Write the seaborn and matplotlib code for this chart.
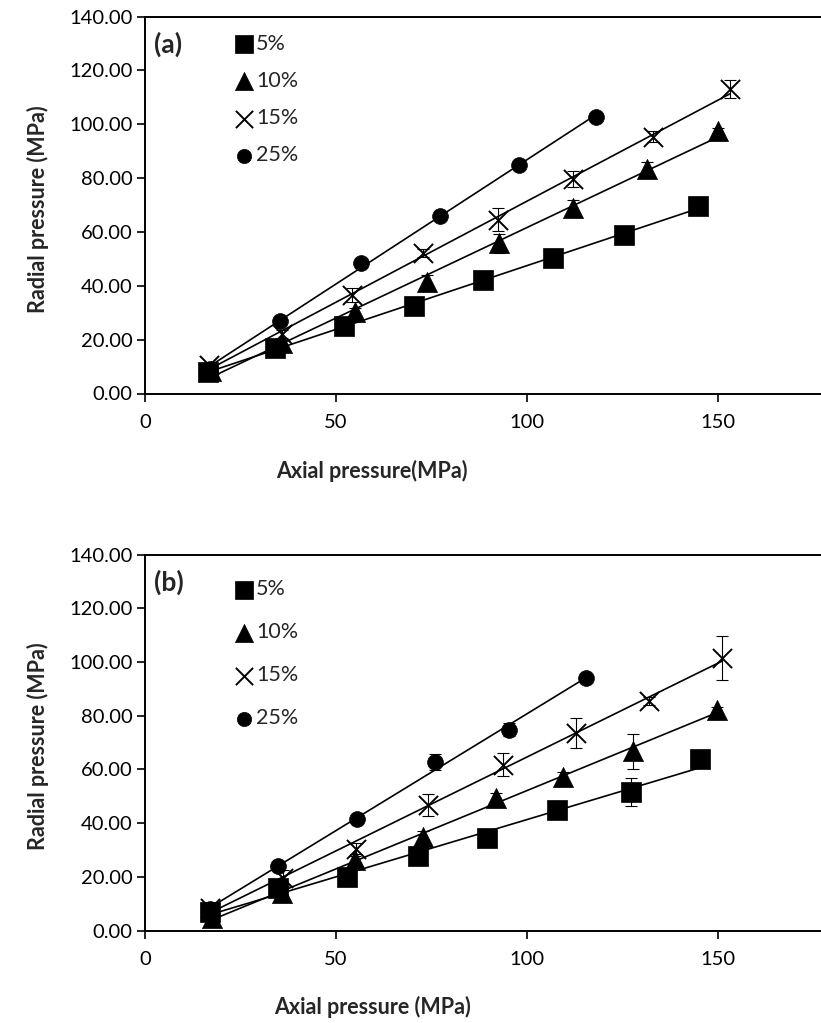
import numpy as np
import matplotlib
matplotlib.use("Agg")
import matplotlib.pyplot as plt
import seaborn as sns

# ---- data: axial vs radial pressure (MPa) for each content level ----
labels = ["5%", "10%", "15%", "25%"]

# panel (a)
x5a = [16.6, 34.0, 52.1, 70.5, 88.6, 106.7, 125.5, 144.8]
y5a = [8.1, 16.8, 25.1, 32.5, 42.2, 50.2, 58.9, 69.8]
e5a = [0.5, 0.8, 0.8, 0.8, 0.8, 0.8, 0.8, 0.8]

x10a = [17.2, 35.8, 55.0, 73.7, 92.7, 112.1, 131.3, 150.1]
y10a = [8.5, 18.7, 30.4, 41.5, 55.8, 68.8, 83.3, 97.3]
e10a = [0.5, 1.0, 1.5, 2.5, 3.5, 3.0, 2.5, 1.2]

x15a = [16.8, 35.8, 54.1, 72.9, 92.5, 112.1, 132.9, 153.1]
y15a = [10.5, 22.1, 36.6, 52.3, 64.5, 79.6, 95.4, 113.0]
e15a = [0.8, 1.5, 2.5, 1.5, 4.3, 3.0, 2.0, 3.3]

x25a = [16.9, 35.3, 56.5, 77.2, 97.8, 118.1]
y25a = [9.0, 26.9, 48.6, 65.9, 85.0, 102.6]
e25a = [0.5, 0.8, 0.8, 0.8, 0.8, 0.8]

# panel (b)
x5b = [17.0, 34.8, 53.0, 71.4, 89.6, 107.8, 127.2, 145.3]
y5b = [6.9, 15.8, 20.0, 27.6, 34.4, 44.9, 51.4, 63.8]
e5b = [1.0, 1.5, 1.0, 1.0, 1.0, 1.0, 5.2, 1.0]

x10b = [17.5, 35.8, 55.0, 72.9, 91.8, 109.3, 127.8, 149.8]
y10b = [4.5, 14.0, 26.3, 35.0, 49.3, 57.1, 66.7, 82.2]
e10b = [0.5, 1.5, 1.5, 2.0, 2.0, 2.0, 6.4, 1.0]

x15b = [17.0, 36.2, 55.3, 74.2, 93.8, 112.8, 132.0, 151.1]
y15b = [8.5, 19.5, 30.5, 46.8, 61.7, 73.5, 85.6, 101.5]
e15b = [1.0, 3.0, 2.0, 4.2, 4.3, 5.5, 1.5, 8.1]

x25b = [17.0, 34.9, 55.4, 75.9, 95.4, 115.4]
y25b = [8.0, 24.0, 41.5, 62.7, 74.8, 94.0]
e25b = [0.5, 1.0, 1.0, 3.1, 2.5, 1.0]

panel_a = [(x5a, y5a, e5a), (x10a, y10a, e10a), (x15a, y15a, e15a), (x25a, y25a, e25a)]
panel_b = [(x5b, y5b, e5b), (x10b, y10b, e10b), (x15b, y15b, e15b), (x25b, y25b, e25b)]

yticks = [0, 20, 40, 60, 80, 100, 120, 140]
xticks = [0, 50, 100, 150]

# ---- style ----
sns.set_style("ticks")
plt.rcParams["font.family"] = ["Lato", "DejaVu Sans"]
plt.rcParams["axes.linewidth"] = 1.4

markers = ["s", "^", "x", "o"]
sizes = [200, 210, 190, 130]

fig = plt.figure(figsize=(8.21, 10.23), dpi=100)
W, H = 821, 1023
left_px, right_px = 145, 821


def make_axes(top_px, bottom_px):
    return fig.add_axes([left_px / W, 1 - bottom_px / H,
                         (right_px - left_px) / W, (bottom_px - top_px) / H])


ax_a = make_axes(16.5, 393.5)
ax_b = make_axes(554.5, 930.5)


def draw_panel(ax, series, tag, xlabel, label_spacing, legend_y):
    for (x, y, e), m, s, lab in zip(series, markers, sizes, labels):
        x = np.asarray(x)
        y = np.asarray(y)
        # linear trend line over the data range
        sns.regplot(x=x, y=y, ax=ax, scatter=False, ci=None, truncate=True,
                    line_kws=dict(color="black", lw=1.2))
        ax.errorbar(x, y, yerr=e, fmt="none", ecolor="black",
                    elinewidth=0.8, capsize=4, capthick=0.8, zorder=3)
        if m == "x":
            sns.scatterplot(x=x, y=y, ax=ax, marker=m, s=s, color="black",
                            linewidth=1.4, label=lab, zorder=4)
        else:
            sns.scatterplot(x=x, y=y, ax=ax, marker=m, s=s, color="black",
                            edgecolor="black", linewidth=0.5, label=lab, zorder=4)

    ax.set_xlim(0, (right_px - left_px) / 3.82)
    ax.set_ylim(0, 140)
    ax.set_xticks(xticks)
    ax.set_yticks(yticks)
    ax.set_yticklabels([f"{v:.2f}" for v in yticks])
    ax.tick_params(axis="both", direction="out", length=6, width=1.2,
                   labelsize=14.5, colors="black")
    ax.tick_params(axis="x", pad=9)
    ax.tick_params(axis="y", pad=3)
    ax.spines["right"].set_visible(False)
    for sp in ["left", "top", "bottom"]:
        ax.spines[sp].set_color("black")

    ax.set_ylabel("Radial pressure (MPa)", fontsize=15.5, fontweight="bold")
    ax.set_xlabel(xlabel, fontsize=15.5, fontweight="bold")
    ax.yaxis.set_label_coords(-0.142, 0.49)
    ax.xaxis.set_label_coords(0.336, -0.175)

    ax.text(0.013, 1 - 27.5 / 377, tag, transform=ax.transAxes,
            fontsize=19, fontweight="bold", va="center", ha="left")

    leg = ax.legend(loc="upper left", bbox_to_anchor=(0.105, legend_y), frameon=False,
                    fontsize=15.5, handletextpad=0.05, handlelength=1.0,
                    labelspacing=label_spacing, markerscale=0.9, borderpad=0.3)
    for h in leg.legend_handles:
        h.set_color("black")


draw_panel(ax_a, panel_a, "(a)", "Axial pressure(MPa)", 0.8, 1.0)
draw_panel(ax_b, panel_b, "(b)", "Axial pressure (MPa)", 1.07, 0.98)

fig.savefig("out.png", dpi=100)
